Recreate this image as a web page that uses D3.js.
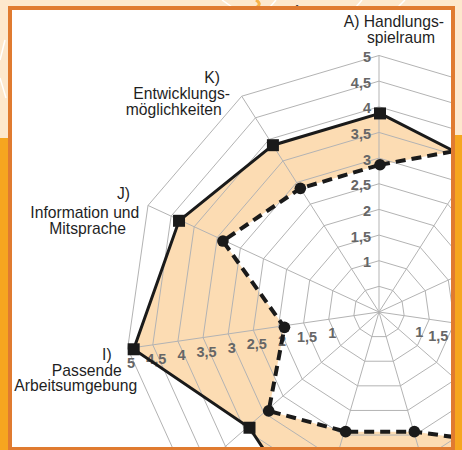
<!DOCTYPE html>
<html><head><meta charset="utf-8">
<script src="https://cdn.jsdelivr.net/npm/d3@7"></script>
<style>html,body{margin:0;padding:0;background:#fff;overflow:hidden} svg{display:block}</style>
</head><body>
<script>
// ---- data ----
const categories = ["A","B","C","D","E","F","G","H","I","J","K"];
const categoryLabels = [
  ["A) Handlungs-","spielraum"], [], [], [], [], [], [], [],
  ["I)","Passende","Arbeitsumgebung"],
  ["J)","Information und","Mitsprache"],
  ["K)","Entwicklungs-","möglichkeiten"]
];
const seriesSolid  = [3.9, 3.5, 4.0, 4.2, 4.3, 4.1, 4.4, 3.4, 4.9, 4.35, 3.9];
const seriesDashed = [2.9, 3.9, 3.5, 3.6, 4.0, 2.4, 2.4, 2.9, 1.9, 3.4, 2.9];
const ringValues = [0.5,1,1.5,2,2.5,3,3.5,4,4.5,5];
const tickValues = [1,1.5,2,2.5,3,3.5,4,4.5,5];
const tickLabels = ["1","1,5","2","2,5","3","3,5","4","4,5","5"];

// ---- layout ----
const W = 462, H = 450;
const cx = 379, cy = 312, sx = 0.99;
const frameRight = 451;
const svg = d3.select("body").append("svg").attr("width", W).attr("height", H);

const r = d3.scaleLinear().domain([0, 5]).range([0, 256.5]);
const ang = d3.scaleLinear().domain([0, categories.length]).range([0, 2 * Math.PI]);
const pt = (i, v) => [cx + sx * r(v) * Math.sin(ang(i)), cy - r(v) * Math.cos(ang(i))];

// background
svg.append("rect").attr("width", W).attr("height", H).attr("fill", "#fde8cd");
svg.append("rect").attr("x", 0).attr("y", 138).attr("width", 10).attr("height", H - 138).attr("fill", "#f6a61f");
svg.append("rect").attr("x", 452).attr("y", 135).attr("width", 10).attr("height", H - 135).attr("fill", "#f6a61f");
const deco = svg.append("g").attr("stroke", "#fff").attr("stroke-width", 1.5).attr("fill", "none");
[[222,0,232,7],[362,0,356,7],[276,0,270,7],[405,0,398,7],[0,78,6,98],[0,60,5,40]].forEach(d =>
  deco.append("line").attr("x1", d[0]).attr("y1", d[1]).attr("x2", d[2]).attr("y2", d[3]));
svg.append("path").attr("d", "M256,0 Q262,4 257,7").attr("stroke", "#f7b34a").attr("stroke-width", 3).attr("fill", "none");
svg.append("text").attr("x", 297).attr("y", 7).attr("text-anchor", "middle")
  .attr("font-family", "Liberation Sans, Arial, sans-serif").attr("font-size", 8).attr("font-weight", "bold")
  .attr("fill", "#333").text("-");

// frame interior
svg.append("rect").attr("x", 10).attr("y", 8).attr("width", 443).attr("height", 441).attr("fill", "#fff");
svg.append("clipPath").attr("id", "clip").append("rect").attr("x", 12).attr("y", 10).attr("width", 439).attr("height", 437);
const g = svg.append("g").attr("clip-path", "url(#clip)");

const closed = d3.line().curve(d3.curveLinearClosed);
const dataShift = "translate(1,1.5)";

// fills
const fills = g.append("g").attr("transform", dataShift);
fills.append("path").attr("d", closed(seriesSolid.map((v, i) => pt(i, v)))).attr("fill", "#fcdcb3");
fills.append("path").attr("d", closed(seriesDashed.map((v, i) => pt(i, v)))).attr("fill", "#fff");

// grid
const grid = g.append("g").attr("fill", "none").attr("stroke", "#b3b3b3").attr("stroke-width", 1);
ringValues.forEach(v => grid.append("path").attr("d", closed(categories.map((c, i) => pt(i, v)))));
categories.forEach((c, i) => {
  const [x, y] = pt(i, 5);
  grid.append("line").attr("x1", cx).attr("y1", cy).attr("x2", x).attr("y2", y);
});

// tick labels (axes A, D, I)
const tl = g.append("g").attr("font-family", "Liberation Sans Narrow, Arial Narrow, Liberation Sans, sans-serif")
  .attr("font-size", 14.5).attr("font-weight", "bold").attr("fill", "#666");
tickValues.forEach((v, k) => {
  let [x, y] = pt(0, v);
  tl.append("text").attr("x", x - 8).attr("y", y + 6.5).attr("text-anchor", "end").text(tickLabels[k]);
  [x, y] = pt(8, v);
  tl.append("text").attr("x", x + 3.5).attr("y", y + 19).attr("text-anchor", "middle").text(tickLabels[k]);
  [x, y] = pt(3, v);
  if (x - 12 < frameRight)
    tl.append("text").attr("x", x - 6).attr("y", y + 18).attr("text-anchor", "end").text(tickLabels[k]);
});

// series lines and markers
const ser = g.append("g").attr("transform", dataShift);
ser.append("path").attr("d", closed(seriesSolid.map((v, i) => pt(i, v))))
  .attr("fill", "none").attr("stroke", "#1a1a1a").attr("stroke-width", 3).attr("stroke-linejoin", "miter");
ser.append("path").attr("d", closed(seriesDashed.map((v, i) => pt(i, v))))
  .attr("fill", "none").attr("stroke", "#1a1a1a").attr("stroke-width", 4).attr("stroke-dasharray", "10,6");
seriesSolid.forEach((v, i) => {
  const [x, y] = pt(i, v);
  ser.append("rect").attr("x", x - 6).attr("y", y - 6).attr("width", 12).attr("height", 12).attr("fill", "#1a1a1a");
});
seriesDashed.forEach((v, i) => {
  const [x, y] = pt(i, v);
  ser.append("circle").attr("cx", x).attr("cy", y).attr("r", 5.8).attr("fill", "#1a1a1a");
});

// category labels: offsets from each axis end point (per line: dx, dy), right-aligned
const labelOffsets = {
  0: [[65, -29], [56, -13]],
  8: [[-16, 11], [-6, 27], [9.6, 42.5]],
  9: [[-18, -6.4], [-8.7, 12.1], [-22, 28.1]],
  10: [[-21.7, -13.2], [-11.7, 3.1], [-20, 18.8]]
};
const lab = g.append("g").attr("font-family", "Liberation Sans, Arial, sans-serif")
  .attr("font-size", 15.7).attr("fill", "#1f1f1f");
categoryLabels.forEach((lines, i) => {
  if (!lines.length || !labelOffsets[i]) return;
  const [x, y] = pt(i, 5);
  lines.forEach((t, k) => {
    const [dx, dy] = labelOffsets[i][k];
    lab.append("text").attr("x", x + dx).attr("y", y + dy).attr("text-anchor", "end").text(t);
  });
});

// frame border
svg.append("rect").attr("x", 10).attr("y", 8).attr("width", 443).attr("height", 441)
  .attr("fill", "none").attr("stroke", "#e07b30").attr("stroke-width", 4);
</script>
</body></html>
